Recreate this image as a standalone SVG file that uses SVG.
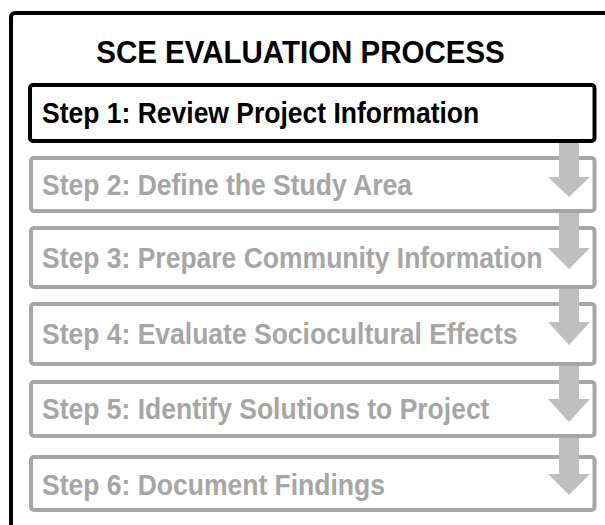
<svg xmlns="http://www.w3.org/2000/svg" width="605" height="525" viewBox="0 0 605 525">
<style>
.step{fill:#fff;stroke:#a6a6a6;stroke-width:4}
.lbl{font-family:"Liberation Sans",Arial,sans-serif;font-weight:bold;font-size:26.5px;fill:#a6a6a6}
.arrow{fill:#bfbfbf}
</style>
<rect width="605" height="525" fill="#fff"/>
<g id="frame">
<rect x="11" y="13" width="700" height="600" rx="4" fill="#fff" stroke="#000" stroke-width="4"/>
<text transform="translate(300.5,63) scale(1,1.05)" text-anchor="middle" font-family="Liberation Sans,Arial,sans-serif" font-weight="bold" font-size="29.5" fill="#000">SCE EVALUATION PROCESS</text>
</g>
<g id="step1">
<rect x="30" y="85" width="564.5" height="56" rx="3" fill="#fff" stroke="#000" stroke-width="4"/>
<text class="lbl" transform="translate(42,123) scale(1,1.13)" style="fill:#000">Step 1: Review Project Information</text>
</g>
<g id="step2">
<rect class="step" x="31" y="158" width="563.5" height="53" rx="3"/>
<text class="lbl" transform="translate(42,195) scale(1,1.13)">Step 2: Define the Study Area</text>
</g>
<g id="step3">
<rect class="step" x="31" y="228" width="563.5" height="59" rx="3"/>
<text class="lbl" transform="translate(42,268) scale(1,1.13)">Step 3: Prepare Community Information</text>
</g>
<g id="step4">
<rect class="step" x="31" y="304" width="563.5" height="60" rx="3"/>
<text class="lbl" transform="translate(42,344) scale(1,1.13)">Step 4: Evaluate Sociocultural Effects</text>
</g>
<g id="step5">
<rect class="step" x="31" y="382" width="563.5" height="54" rx="3"/>
<text class="lbl" transform="translate(42,419) scale(1,1.13)">Step 5: Identify Solutions to Project</text>
</g>
<g id="step6">
<rect class="step" x="31" y="457" width="563.5" height="53" rx="3"/>
<text class="lbl" transform="translate(42,495) scale(1,1.13)">Step 6: Document Findings</text>
</g>
<g id="connectors">
<polygon class="arrow" points="559,143 579,143 579,177 590,177 569,197 548,177 559,177"/>
<polygon class="arrow" points="559,213 579,213 579,248 590,248 569,269 548,248 559,248"/>
<polygon class="arrow" points="559,289 579,289 579,322 590,322 569,345 548,322 559,322"/>
<polygon class="arrow" points="559,366 579,366 579,399 590,399 569,422 548,399 559,399"/>
<polygon class="arrow" points="559,438 579,438 579,474 590,474 569,495 548,474 559,474"/>
</g>
</svg>
